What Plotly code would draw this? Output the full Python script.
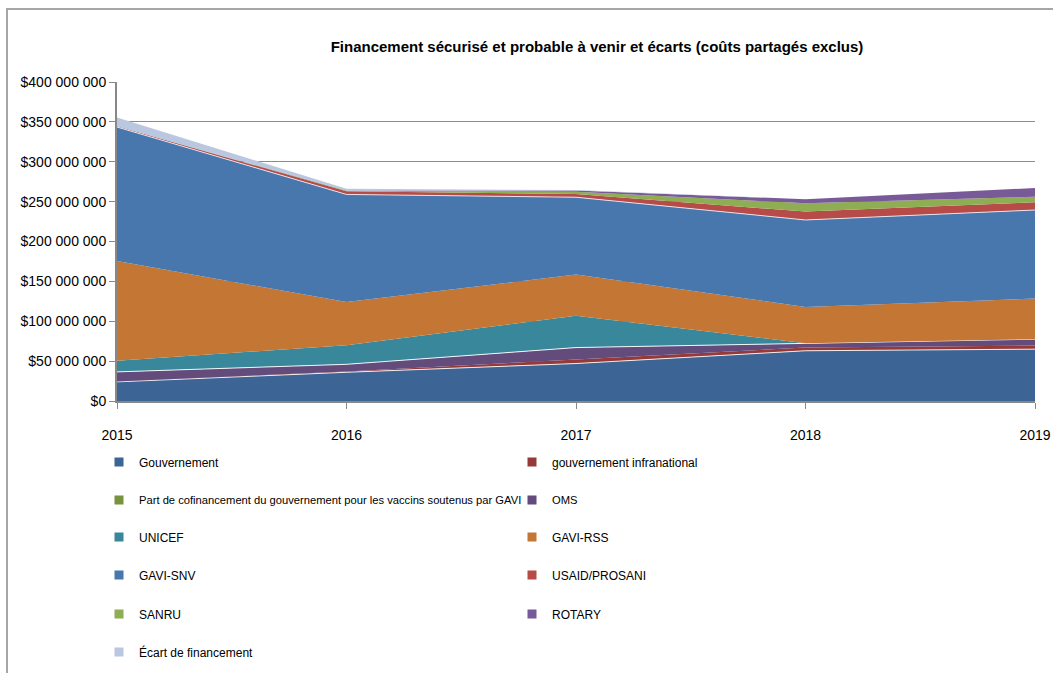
import plotly.graph_objects as go

# Funding by source, in US dollars (stacked areas, bottom to top)
years = [2015, 2016, 2017, 2018, 2019]

gouvernement = [24.0e6, 36.0e6, 47.0e6, 63.0e6, 65.0e6]
gouv_infranational = [0.5e6, 1.0e6, 5.0e6, 4.0e6, 4.5e6]
cofinancement_gavi = [0, 0, 0, 0, 0]
oms = [12.0e6, 9.0e6, 15.0e6, 5.0e6, 8.0e6]
unicef = [14.0e6, 24.0e6, 40.0e6, 0.5e6, 0]
gavi_rss = [125.0e6, 54.0e6, 51.5e6, 45.5e6, 51.0e6]
gavi_snv = [168.0e6, 135.0e6, 97.0e6, 109.0e6, 111.0e6]
usaid_prosani = [1.0e6, 4.0e6, 4.0e6, 10.5e6, 9.6e6]
sanru = [0, 0.5e6, 3.0e6, 10.5e6, 7.0e6]
rotary = [0, 0.5e6, 1.5e6, 5.0e6, 11.0e6]
ecart = [11.0e6, 2.0e6, 0.5e6, 0, 0]

series_names = [
    "Gouvernement",
    "gouvernement infranational",
    "Part de cofinancement du gouvernement pour les vaccins soutenus par GAVI",
    "OMS",
    "UNICEF",
    "GAVI-RSS",
    "GAVI-SNV",
    "USAID/PROSANI",
    "SANRU",
    "ROTARY",
    "Écart de financement",
]
series_values = [
    gouvernement, gouv_infranational, cofinancement_gavi, oms, unicef,
    gavi_rss, gavi_snv, usaid_prosani, sanru, rotary, ecart,
]

y_tick_values = [0, 50e6, 100e6, 150e6, 200e6, 250e6, 300e6, 350e6, 400e6]
y_tick_labels = ["$0", "$50 000 000", "$100 000 000", "$150 000 000",
                 "$200 000 000", "$250 000 000", "$300 000 000",
                 "$350 000 000", "$400 000 000"]

title_text = "Financement sécurisé et probable à venir et écarts (coûts partagés exclus)"

colors = [
    "#3C6595", "#953A38", "#77933C", "#634B7C", "#38879A",
    "#C47635", "#4877AE", "#B64B48", "#8FAD52", "#775A97", "#B9C8E0",
]
# thin light seams on top of a few layers
edge = {0: "rgba(255,255,255,0.85)", 3: "rgba(255,255,255,0.9)",
        6: "rgba(235,235,245,0.9)"}

FONT = "Liberation Sans, Arial, sans-serif"
W, H = 1053, 673
L, R, T, B = 117, 1035, 82, 401

fig = go.Figure()

for i, (name, vals) in enumerate(zip(series_names, series_values)):
    fig.add_trace(go.Scatter(
        x=years, y=vals, name=name, mode="lines",
        stackgroup="funding", fillcolor=colors[i],
        line=dict(width=1 if i in edge else 0, color=edge.get(i, colors[i])),
        showlegend=False, hoverinfo="x+y+name",
    ))

# legend: two entries per row, six rows
legend_rows = [462, 500, 537, 575, 614, 652]
for i, name in enumerate(series_names):
    row = i // 2
    key = "legend" if row == 0 else f"legend{row + 1}"
    fig.add_trace(go.Scatter(
        x=[None], y=[None], mode="markers", name=name,
        marker=dict(symbol="square", size=9, color=colors[i]),
        legend=key, showlegend=True,
    ))

legend_style = dict(
    orientation="h", xref="container", yref="container",
    x=99 / W, xanchor="left", yanchor="middle",
    font=dict(family=FONT, size=12, color="#000000"),
    bgcolor="rgba(0,0,0,0)", borderwidth=0,
    entrywidth=368, entrywidthmode="pixels",
    traceorder="normal",
    itemclick=False, itemdoubleclick=False,
)
legends = {}
for r, py in enumerate(legend_rows):
    key = "legend" if r == 0 else f"legend{r + 1}"
    legends[key] = dict(legend_style, y=1 - py / H)
# the long co-financing label needs a slightly smaller size to clear column 2
legends["legend2"]["font"] = dict(family=FONT, size=11.2, color="#000000")

fig.update_layout(
    width=W, height=H,
    margin=dict(l=L, r=W - R, t=T, b=H - B, pad=0, autoexpand=False),
    paper_bgcolor="white", plot_bgcolor="white",
    font=dict(family=FONT, size=14, color="#000000"),
    title=dict(
        text=f"<b>{title_text}</b>",
        xref="container", yref="container",
        x=597 / W, y=1 - 47 / H, xanchor="center", yanchor="middle",
        font=dict(family=FONT, size=15, color="#000000"),
    ),
    xaxis=dict(
        range=[2015, 2019], tickvals=years, ticktext=[str(y) for y in years],
        showgrid=False, zeroline=False, automargin=False,
        showline=True, linecolor="#888888", linewidth=2,
        ticks="outside", ticklen=6, tickcolor="#888888", tickwidth=1,
        ticklabelstandoff=14,
        tickfont=dict(family=FONT, size=14, color="#000000"),
        fixedrange=True,
    ),
    yaxis=dict(
        range=[0, 400e6], tickvals=y_tick_values, ticktext=y_tick_labels,
        showgrid=True, gridcolor="#8C8C8C", gridwidth=1, zeroline=False,
        automargin=False,
        showline=True, linecolor="#888888", linewidth=2,
        ticks="outside", ticklen=6, tickcolor="#888888", tickwidth=1,
        tickfont=dict(family=FONT, size=14, color="#000000"),
        fixedrange=True,
    ),
    shapes=[dict(
        type="rect", xref="paper", yref="paper",
        x0=(7 - L) / (R - L), x1=(1070 - L) / (R - L),
        y0=(B - 690) / (B - T), y1=(B - 9) / (B - T),
        line=dict(color="#A6A6A6", width=2), fillcolor="rgba(0,0,0,0)",
        layer="above",
    )],
    showlegend=True,
    **legends,
)

fig.write_html("out.html")
